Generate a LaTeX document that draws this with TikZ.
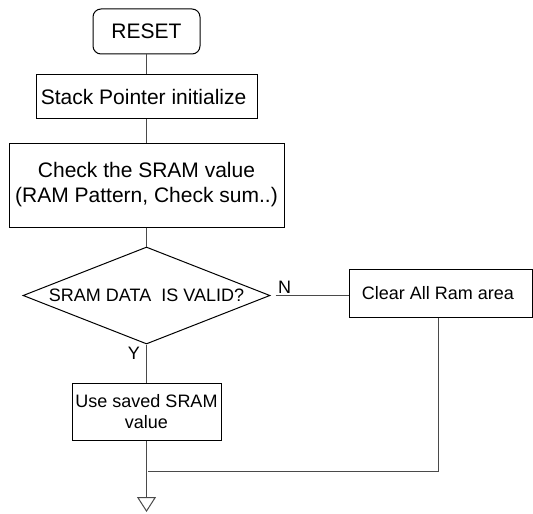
\documentclass[tikz,border=0pt]{standalone}
\usepackage{fontspec}
\setmainfont{Liberation Sans}
\usetikzlibrary{shapes.geometric, arrows.meta, positioning}
\definecolor{linegray}{HTML}{4A4A4A}
\tikzset{
	startnode/.style={
			rectangle,
			rounded corners=4pt,
			draw=black,
			line width=0.5pt,
			inner sep=0pt,
			font=\fontsize{10.5}{12.5}\selectfont
		},
	boxnode/.style={
			rectangle,
			draw=black,
			line width=0.5pt,
			inner sep=0pt,
			align=center,
			font=\fontsize{10.5}{12.5}\selectfont
		},
	smallbox/.style={
			boxnode,
			font=\fontsize{9}{10.8}\selectfont
		},
	decisionnode/.style={
			diamond,
			aspect=2.5,
			draw=black,
			line width=0.5pt,
			inner sep=0pt,
			font=\fontsize{9}{10.8}\selectfont
		},
	flowline/.style={
			draw=linegray,
			line width=0.5pt
		},
	labelnode/.style={
			inner sep=1pt,
			font=\fontsize{9}{10.8}\selectfont
		}
}

\begin{document}
\begin{tikzpicture}[x=0.5pt, y=-0.5pt]
\useasboundingbox (0,0) rectangle (533,513);

\node[startnode, minimum width=53.5pt, minimum height=22.5pt] (n1) at (146.5,31.5) { RESET };
\node[boxnode, minimum width=110.5pt, minimum height=22pt] (n2) at (146.5,97) { Stack Pointer initialize };
\node[boxnode, minimum width=137.5pt, minimum height=42pt] (n3) at (146.5,185) { Check the SRAM value\\(RAM Pattern, Check sum..) };
\node[decisionnode, minimum width=123.5pt, minimum height=48.5pt] (n4) at (146.5,295.5) { SRAM DATA\ \ IS VALID? };
\node[smallbox, minimum width=91.5pt, minimum height=24pt] (n5) at (440.5,293) { Clear All Ram area };
\node[smallbox, minimum width=74.5pt, minimum height=28.5pt] (n6) at (146.5,411.5) { Use saved SRAM\\value };

\coordinate (join) at (148,471);
\coordinate (out) at (146.5,512);

\draw[flowline] (n1) -- (n2);
\draw[flowline] (n2) -- (n3);
\draw[flowline] (n3) -- (n4);

\draw[flowline] ([xshift=2.5pt]n4.east) -- (n5.west |- n4.east)
	node[labelnode, pos=0, anchor=south west] {N};
\draw[flowline] (n4) -- (n6)
	node[labelnode, pos=0, anchor=north east, xshift=-2pt] {Y};

\draw[flowline] (n5.south -| 438,0) |- (join);
\draw[flowline, -{Triangle[open, width=9.5pt, length=7.5pt]}] (n6) -- (out);
\end{tikzpicture}
\end{document}
